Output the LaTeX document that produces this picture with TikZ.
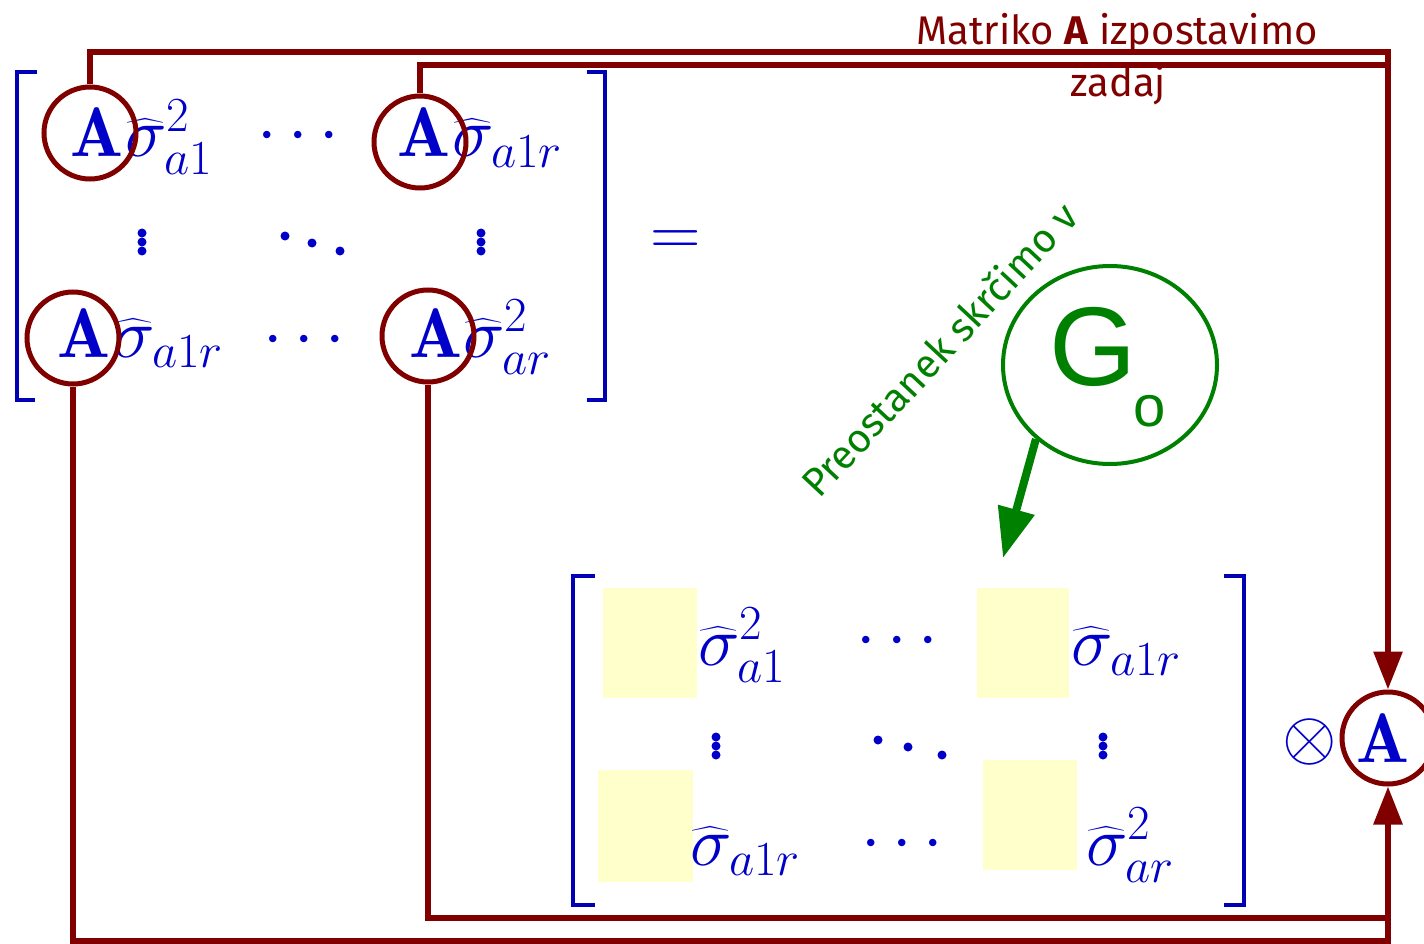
\RequirePackage{fix-cm}
\documentclass[tikz,border=0pt]{standalone}
\usepackage{amsmath}
\usepackage{fontspec}
\usetikzlibrary{arrows.meta,shapes.geometric}
\newfontfamily\comicf{Fira Sans}
\newfontfamily\arialf{Liberation Sans}
\definecolor{dred}{RGB}{128,0,0}
\definecolor{mblue}{RGB}{0,0,200}
\definecolor{bblue}{RGB}{0,0,180}
\definecolor{dgreen}{RGB}{0,128,0}
\definecolor{pyel}{RGB}{255,255,204}
\tikzset{
  conn/.style={draw=dred, line width=6pt},
  ring/.style={circle, draw=dred, line width=5pt, minimum size=92pt, inner sep=0pt},
  mtxt/.style={text=mblue, font=\fontsize{70}{80}\selectfont, inner sep=0pt},
  brk/.style={draw=bblue, line width=4pt},
  dotf/.style={fill=mblue},
  ytile/.style={fill=pyel},
  redlab/.style={text=dred, font=\comicf\fontsize{40}{44}\selectfont, inner sep=0pt},
  greenlab/.style={text=dgreen, font=\comicf\fontsize{40}{44}\selectfont, inner sep=0pt}
}
\begin{document}
\begin{tikzpicture}[x=1pt,y=-1pt]
\clip (0,0) rectangle (1424,944);
\fill[white] (0,0) rectangle (1424,944);

% yellow tiles of lower matrix
\fill[ytile] (603,588) rectangle (697,698);
\fill[ytile] (977,588) rectangle (1069,698);
\fill[ytile] (598,770) rectangle (693,882);
\fill[ytile] (983,760) rectangle (1077,870);

% brackets upper matrix
\draw[brk] (37,72) -- (17,72) -- (17,400) -- (35,400);
\draw[brk] (587,72) -- (605,72) -- (605,400) -- (587,400);
% brackets lower matrix
\draw[brk] (595,576) -- (573,576) -- (573,905) -- (595,905);
\draw[brk] (1224,576) -- (1244,576) -- (1244,905) -- (1224,905);

% upper matrix entries
\node[mtxt, anchor=base] (a11) at (97,157) {$\mathbf{A}$};
\node[mtxt, anchor=base west] (s11) at (125,157) {$\widehat{\sigma}^2_{a1}$};
\node[mtxt, anchor=base] (d11) at (304,153) {$\cdots$};
\node[mtxt, anchor=base] (a1r) at (424,157) {$\mathbf{A}$};
\node[mtxt, anchor=base west] (s1r) at (452,157) {$\widehat{\sigma}_{a1r}$};
\node[mtxt, anchor=base] (ar1) at (84,357) {$\mathbf{A}$};
\node[mtxt, anchor=base west] (sr1) at (113,357) {$\widehat{\sigma}_{a1r}$};
\node[mtxt, anchor=base] (dr1) at (310,356) {$\cdots$};
\node[mtxt, anchor=base] (arr) at (436,357) {$\mathbf{A}$};
\node[mtxt, anchor=base west] (srr) at (463,357) {$\widehat{\sigma}^2_{ar}$};
% vdots / ddots upper
\foreach \yy in {233,242,251}{\fill[dotf] (142,\yy) circle (4.5); \fill[dotf] (481,\yy) circle (4.5);}
\fill[dotf] (285,236) circle (4.5); \fill[dotf] (312,243) circle (4.5); \fill[dotf] (340,251) circle (4.5);

% equals
\node[mtxt, anchor=base] (eq) at (676,255) {$=$};

% lower matrix entries
\node[mtxt, anchor=base west] (t11) at (698,665) {$\widehat{\sigma}^2_{a1}$};
\node[mtxt, anchor=base] (e11) at (903,657) {$\cdots$};
\node[mtxt, anchor=base west] (t1r) at (1071,665) {$\widehat{\sigma}_{a1r}$};
\node[mtxt, anchor=base west] (tr1) at (690,865) {$\widehat{\sigma}_{a1r}$};
\node[mtxt, anchor=base] (er1) at (908,860) {$\cdots$};
\node[mtxt, anchor=base west] (trr) at (1086,865) {$\widehat{\sigma}^2_{ar}$};
\foreach \yy in {737,746,755}{\fill[dotf] (716,\yy) circle (4.5); \fill[dotf] (1103,\yy) circle (4.5);}
\fill[dotf] (878,740) circle (4.5); \fill[dotf] (908,747) circle (4.5); \fill[dotf] (942,755) circle (4.5);

% otimes and right A
\node[mtxt, anchor=center] (ot) at (1310,742) {$\otimes$};
\node[mtxt, anchor=base] (aR) at (1383,762) {$\mathbf{A}$};

% rings
\node[ring] (c11) at (90,133) {};
\node[ring] (c1r) at (420,142) {};
\node[ring] (cr1) at (73,338) {};
\node[ring] (crr) at (428,336) {};
\node[ring] (cR) at (1388,738) {};

% connector corners
\coordinate (k1) at (1388,52);
\coordinate (k2) at (1388,65);
\coordinate (k3) at (1388,941);
\coordinate (k4) at (1388,918);

\draw[conn] (c1r.north) |- (k2);
\draw[conn, -{Triangle[length=38pt,width=28pt]}] (c11.north) |- (k1) -- (cR.north);
\draw[conn] (crr.south) |- (k4);
\draw[conn, -{Triangle[length=38pt,width=28pt]}] (cr1.south) |- (k3) -- (cR.south);

% labels
\node[redlab, anchor=base] (lab1) at (1117,45) {Matriko \textbf{A} izpostavimo};
\node[redlab, anchor=base] (lab2) at (1118,97) {zadaj};

% green part
\node[ellipse, draw=dgreen, line width=4pt, minimum width=214pt, minimum height=198pt] (go) at (1110,365) {};
\node[text=dgreen, font=\arialf\fontsize{112}{120}\selectfont, inner sep=0pt, anchor=base] (gG) at (1093,385) {G};
\node[text=dgreen, font=\arialf\fontsize{58}{70}\selectfont, inner sep=0pt, anchor=base] (gO) at (1150,426) {o};
\coordinate (gtip) at (1003,558);
\draw[draw=dgreen, fill=dgreen, line width=8pt, -{Triangle[length=50pt,width=36pt]}] (go.225) -- (gtip);
\node[greenlab, anchor=base west, rotate=47] (glab) at (819,500) {Preostanek skrčimo v};
\end{tikzpicture}
\end{document}
